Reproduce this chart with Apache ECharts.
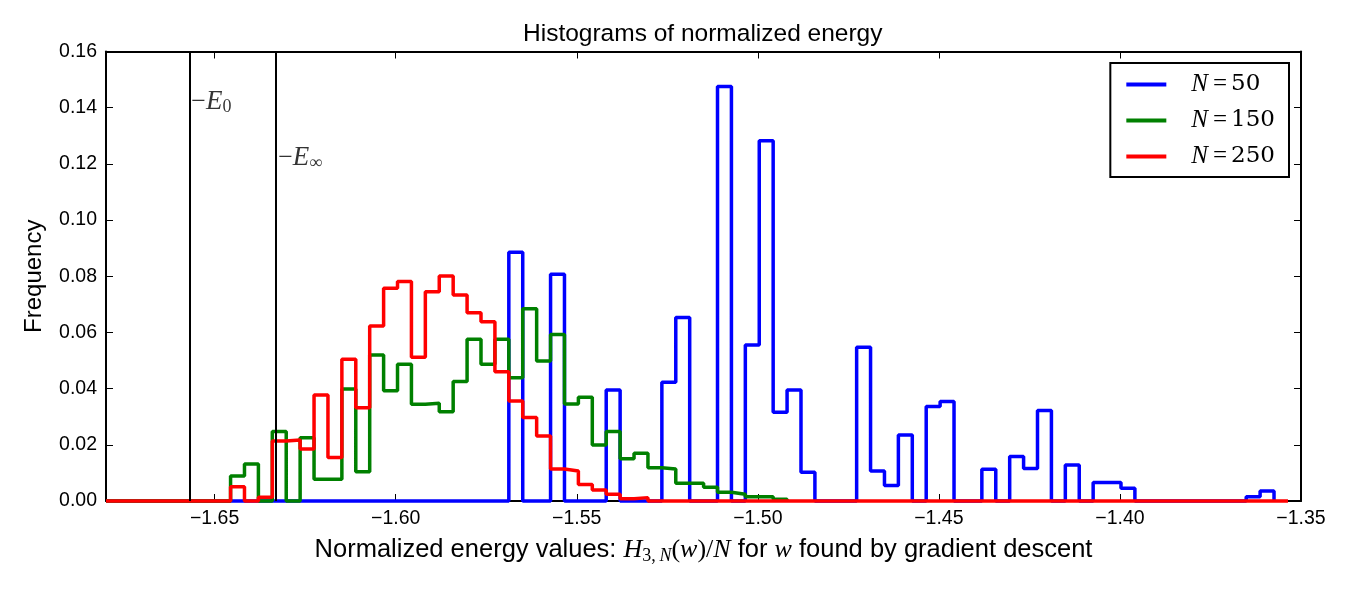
<!DOCTYPE html>
<html>
<head>
<meta charset="utf-8">
<title>Histograms of normalized energy</title>
<script src="https://cdn.jsdelivr.net/npm/echarts@6.0.0/dist/echarts.min.js"></script>
<style>
  html, body { margin: 0; padding: 0; background: #fff; }
  #chart { width: 1350px; height: 600px; }
</style>
</head>
<body>
<div id="chart"></div>
<script>
// common histogram bins (75 bins, same width for every N)
const binStart = -1.6456
const binWidth = 0.003842

// frequency per bin
const freqN50 = [
  0, 0, 0, 0, 0, 0, 0, 0, 0, 0,
  0, 0, 0, 0, 0, 0, 0, 0, 0, 0,
  0.0885, 0, 0, 0.0807, 0, 0, 0, 0.0395, 0, 0,
  0, 0.0423, 0.0653, 0, 0, 0.1475, 0, 0.0555, 0.1282, 0.0316,
  0.0395, 0.0102, 0, 0, 0, 0.0547, 0.0107, 0.0055, 0.0235, 0,
  0.0336, 0.0354, 0, 0, 0.0113, 0, 0.0158, 0.0116, 0.0322, 0,
  0.0128, 0, 0.0066, 0.0066, 0.0045, 0, 0, 0, 0, 0,
  0, 0, 0, 0.0015, 0.0036
]
const freqN150 = [
  0.0089, 0.0132, 0, 0.0247, 0, 0.0225, 0.0077, 0.0077, 0.0399, 0.0104,
  0.052, 0.0392, 0.0487, 0.0344, 0.0348, 0.0318, 0.0425, 0.0576, 0.0487, 0.0576,
  0.0439, 0.0684, 0.0498, 0.0593, 0.0345, 0.0369, 0.0199, 0.0247, 0.015, 0.017,
  0.0118, 0.0114, 0.0063, 0.0063, 0.0049, 0.0031, 0.0024, 0.0015, 0.0015, 0.0006
]
const freqN250 = [
  0.0051, 0, 0.0013, 0.0214, 0.0217, 0.0185, 0.0377, 0.0155, 0.0505, 0.0332,
  0.0623, 0.0757, 0.0781, 0.0512, 0.0745, 0.0801, 0.0733, 0.067, 0.0638, 0.046,
  0.0356, 0.0297, 0.0231, 0.0114, 0.0107, 0.0059, 0.0039, 0.0024, 0.0008, 0.0012
]

const seriesNames = ['N=50', 'N=150', 'N=250']
const seriesColors = ['#0000ff', '#008000', '#ff0000']

// energy levels marked with vertical lines
const energyLevels = [-1.657, -1.633]
const energyLabelY = [0.1421, 0.1221]

const xTicks = [-1.65, -1.60, -1.55, -1.50, -1.45, -1.40, -1.35]
const xMin = -1.68
const xMax = -1.35
const lineEnd = -1.3536

const SANS = 'Liberation Sans'
const SERIF = 'Liberation Serif'

// step outline of a histogram, zero line from the left edge;
// only the top-most series carries the zero line on to the right
function stepData(freq, padRight) {
  const pts = [[xMin, 0]]
  freq.forEach((v, i) => {
    pts.push([binStart + i * binWidth, v])
  })
  pts.push([binStart + freq.length * binWidth, 0])
  if (padRight) pts.push([lineEnd, 0])
  return pts
}

const minus = (v) => v.toFixed(2).replace('-', '\u2212')

const chart = echarts.init(document.getElementById('chart'), null, { renderer: 'canvas' })

const histSeries = [freqN50, freqN150, freqN250].map((freq, i) => ({
  name: seriesNames[i],
  type: 'line',
  step: 'end',
  showSymbol: false,
  symbol: 'none',
  clip: false,
  z: 2 + i,
  data: stepData(freq, i === 2),
  color: seriesColors[i],
  lineStyle: { color: seriesColors[i], width: 3.5 },
  emphasis: { disabled: true },
  silent: true
}))

const subLabels = ['0', '\u221e']

chart.setOption({
  animation: false,
  backgroundColor: '#fff',
  title: {
    text: 'Histograms of normalized energy',
    left: 523,
    top: 20,
    padding: 0,
    textStyle: { fontFamily: SANS, fontSize: 24.5, fontWeight: 'normal', color: '#000', lineHeight: 28 }
  },
  grid: { left: 106, right: 49, top: 51.5, bottom: 99 },
  legend: {
    data: seriesNames,
    orient: 'vertical',
    right: 61,
    top: 63,
    icon: 'rect',
    itemWidth: 40,
    itemHeight: 4,
    itemGap: 11,
    padding: [9, 14, 8, 16],
    borderColor: '#000',
    borderWidth: 2,
    borderRadius: 0,
    backgroundColor: '#fff',
    selectedMode: false,
    formatter: (name) => '{sp|}{i|N}{eq|=}{r|' + name.split('=')[1] + '}',
    textStyle: {
      rich: {
        sp: { width: 20 },
        i: { fontFamily: SERIF, fontStyle: 'italic', fontSize: 25, color: '#000', lineHeight: 25 },
        eq: { fontFamily: SERIF, fontSize: 25, color: '#000', lineHeight: 25, padding: [0, 4, 0, 5] },
        r: { fontFamily: 'DejaVu Serif', fontSize: 23, color: '#000', lineHeight: 25 }
      }
    }
  },
  xAxis: [{
    type: 'value',
    min: xMin,
    max: xMax,
    position: 'bottom',
    axisLine: { onZero: false, lineStyle: { color: '#000', width: 2 } },
    axisTick: { inside: true, length: 7, customValues: xTicks, lineStyle: { color: '#000', width: 1 } },
    axisLabel: {
      customValues: xTicks,
      formatter: minus,
      margin: 8,
      fontFamily: SANS,
      fontSize: 19.5,
      color: '#000'
    },
    splitLine: { show: false },
    name: '{s|Normalized energy values: }{mi|H}{sub|3,\u2009}{subi|N}{m|(}{mi|w}{m|)/}{mi|N}{s| for }{mi|w}{s| found by gradient descent}',
    nameLocation: 'middle',
    nameGap: 34,
    nameTextStyle: {
      rich: {
        s: { fontFamily: SANS, fontSize: 25.5, color: '#000', lineHeight: 30 },
        mi: { fontFamily: SERIF, fontStyle: 'italic', fontSize: 26, color: '#000', lineHeight: 30 },
        m: { fontFamily: SERIF, fontSize: 26, color: '#000', lineHeight: 30 },
        sub: { fontFamily: SERIF, fontSize: 18, color: '#000', lineHeight: 17, verticalAlign: 'bottom' },
        subi: { fontFamily: SERIF, fontStyle: 'italic', fontSize: 18, color: '#000', lineHeight: 17, verticalAlign: 'bottom' }
      }
    }
  }, {
    type: 'value',
    min: xMin,
    max: xMax,
    position: 'top',
    axisLine: { onZero: false, lineStyle: { color: '#000', width: 2 } },
    axisTick: { inside: true, length: 7, customValues: xTicks, lineStyle: { color: '#000', width: 1 } },
    axisLabel: { show: false },
    splitLine: { show: false }
  }],
  yAxis: [{
    type: 'value',
    min: 0,
    max: 0.16,
    interval: 0.02,
    position: 'left',
    axisLine: { show: true, onZero: false, lineStyle: { color: '#000', width: 2 } },
    axisTick: { show: true, inside: true, length: 7, lineStyle: { color: '#000', width: 1 } },
    axisLabel: {
      formatter: (v) => v.toFixed(2),
      margin: 9,
      fontFamily: SANS,
      fontSize: 19.5,
      color: '#000'
    },
    splitLine: { show: false },
    name: 'Frequency',
    nameLocation: 'middle',
    nameGap: 59,
    nameTextStyle: { fontFamily: SANS, fontSize: 24, color: '#000', lineHeight: 26 }
  }, {
    type: 'value',
    min: 0,
    max: 0.16,
    interval: 0.02,
    position: 'right',
    axisLine: { show: true, onZero: false, lineStyle: { color: '#000', width: 2 } },
    axisTick: { show: true, inside: true, length: 7, lineStyle: { color: '#000', width: 1 } },
    axisLabel: { show: false },
    splitLine: { show: false }
  }],
  series: histSeries.concat([{
    // -E0 / -E_inf markers
    name: 'levels',
    type: 'scatter',
    symbolSize: 0,
    silent: true,
    z: 1,
    data: energyLevels.map((x, i) => ({
      value: [x, energyLabelY[i]],
      label: { formatter: '{m|\u2212}{e|E}{s|' + subLabels[i] + '}' }
    })),
    label: {
      show: true,
      position: 'right',
      distance: 2,
      rich: {
        m: { fontFamily: SERIF, fontSize: 26, color: '#000', lineHeight: 28 },
        e: { fontFamily: SERIF, fontStyle: 'italic', fontSize: 27, color: '#000', lineHeight: 28 },
        s: { fontFamily: SERIF, fontSize: 18, color: '#000', lineHeight: 16, verticalAlign: 'bottom' }
      }
    },
    markLine: {
      silent: true,
      symbol: 'none',
      precision: 4,
      label: { show: false },
      lineStyle: { color: '#000', width: 2, type: 'solid' },
      data: energyLevels.map((x) => ({ xAxis: x }))
    }
  }])
})
</script>
</body>
</html>
